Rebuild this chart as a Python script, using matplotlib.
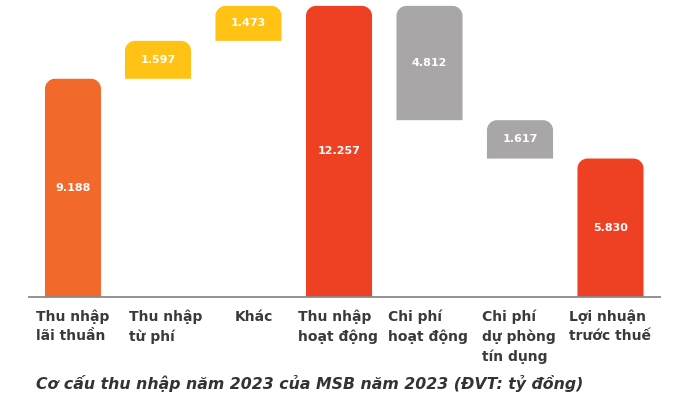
import matplotlib
matplotlib.use("Agg")
import matplotlib.pyplot as plt
from matplotlib.path import Path
from matplotlib.patches import PathPatch
from matplotlib.transforms import blended_transform_factory

# ---- data ----
categories = ["Thu nhập\nlãi thuần", "Thu nhập\ntừ phí", "Khác", "Thu nhập\nhoạt động",
              "Chi phí\nhoạt động", "Chi phí\ndự phòng\ntín dụng", "Lợi nhuận\ntrước thuế"]
values = [9.188, 1.597, 1.473, 12.257, -4.812, -1.617, 5.830]
value_labels = ["9.188", "1.597", "1.473", "12.257", "4.812", "1.617", "5.830"]
kinds = ["total", "delta", "delta", "total", "delta", "delta", "total"]
caption = "Cơ cấu thu nhập năm 2023 của MSB năm 2023 (ĐVT: tỷ đồng)"

# ---- style / layout ----
colors = ["#F26A2B", "#FFC215", "#FFC215", "#EE4124", "#A8A6A7", "#A8A6A7", "#EE4124"]
W, H = 680, 400
px_per_unit = 23.75
step_px = 90.5
x0_px = 67.5
ax_left_px, ax_right_px, base_px = 28, 661, 297
bar_left_off = [-0.249, -0.365, -0.365, -0.365, -0.365, -0.365, -0.365]
bar_width = [0.619, 0.73, 0.73, 0.73, 0.73, 0.73, 0.73]
label_px = [36, 129, 235, 298, 388, 482, 569]
radius_px = 10

fig = plt.figure(figsize=(W / 100, H / 100), dpi=100)
ax = fig.add_axes([ax_left_px / W, 1 - base_px / H, (ax_right_px - ax_left_px) / W, base_px / H])
ax.set_xlim((ax_left_px - x0_px) / step_px, (ax_right_px - x0_px) / step_px)
ax.set_ylim(0, base_px / px_per_unit)
ax.axis("off")

rx = radius_px / step_px
ry = radius_px / px_per_unit
k = 0.5523


def rounded_top_bar(left, bottom, width, height, color):
    right = left + width
    top = bottom + height
    verts = [
        (left, bottom), (left, top - ry),
        (left, top - ry + k * ry), (left + rx - k * rx, top), (left + rx, top),
        (right - rx, top),
        (right - rx + k * rx, top), (right, top - ry + k * ry), (right, top - ry),
        (right, bottom), (left, bottom),
    ]
    codes = [Path.MOVETO, Path.LINETO,
             Path.CURVE4, Path.CURVE4, Path.CURVE4,
             Path.LINETO,
             Path.CURVE4, Path.CURVE4, Path.CURVE4,
             Path.LINETO, Path.CLOSEPOLY]
    ax.add_patch(PathPatch(Path(verts, codes), facecolor=color, edgecolor="none"))


running = 0.0
for i, (v, kind) in enumerate(zip(values, kinds)):
    if kind == "total":
        bottom, top = 0.0, v
        running = v
    else:
        start = running
        running = running + v
        bottom, top = min(start, running), max(start, running)
    left = i + bar_left_off[i]
    rounded_top_bar(left, bottom, bar_width[i], top - bottom, colors[i])
    ax.text(left + bar_width[i] / 2, (bottom + top) / 2, value_labels[i],
            ha="center", va="center", color="white", fontsize=8, fontweight="bold",
            family="DejaVu Sans")

# baseline
ax.plot([ax.get_xlim()[0], ax.get_xlim()[1]], [0, 0], color="#8a8a8a", lw=1.3,
        clip_on=False, solid_capstyle="butt")

trans = blended_transform_factory(ax.transData, fig.transFigure)
for i, cat in enumerate(categories):
    x = (label_px[i] - x0_px) / step_px
    ax.text(x, 1 - 310 / H, cat, transform=trans, ha="left", va="top",
            fontsize=10, fontweight="bold", color="#3a3a3a", family="DejaVu Sans",
            linespacing=1.45)

fig.text(36 / W, 1 - 384 / H, caption, ha="left", va="center", fontsize=11.3,
         fontweight="bold", fontstyle="italic", color="#333333", family="DejaVu Sans")

fig.savefig("out.png", dpi=100)
